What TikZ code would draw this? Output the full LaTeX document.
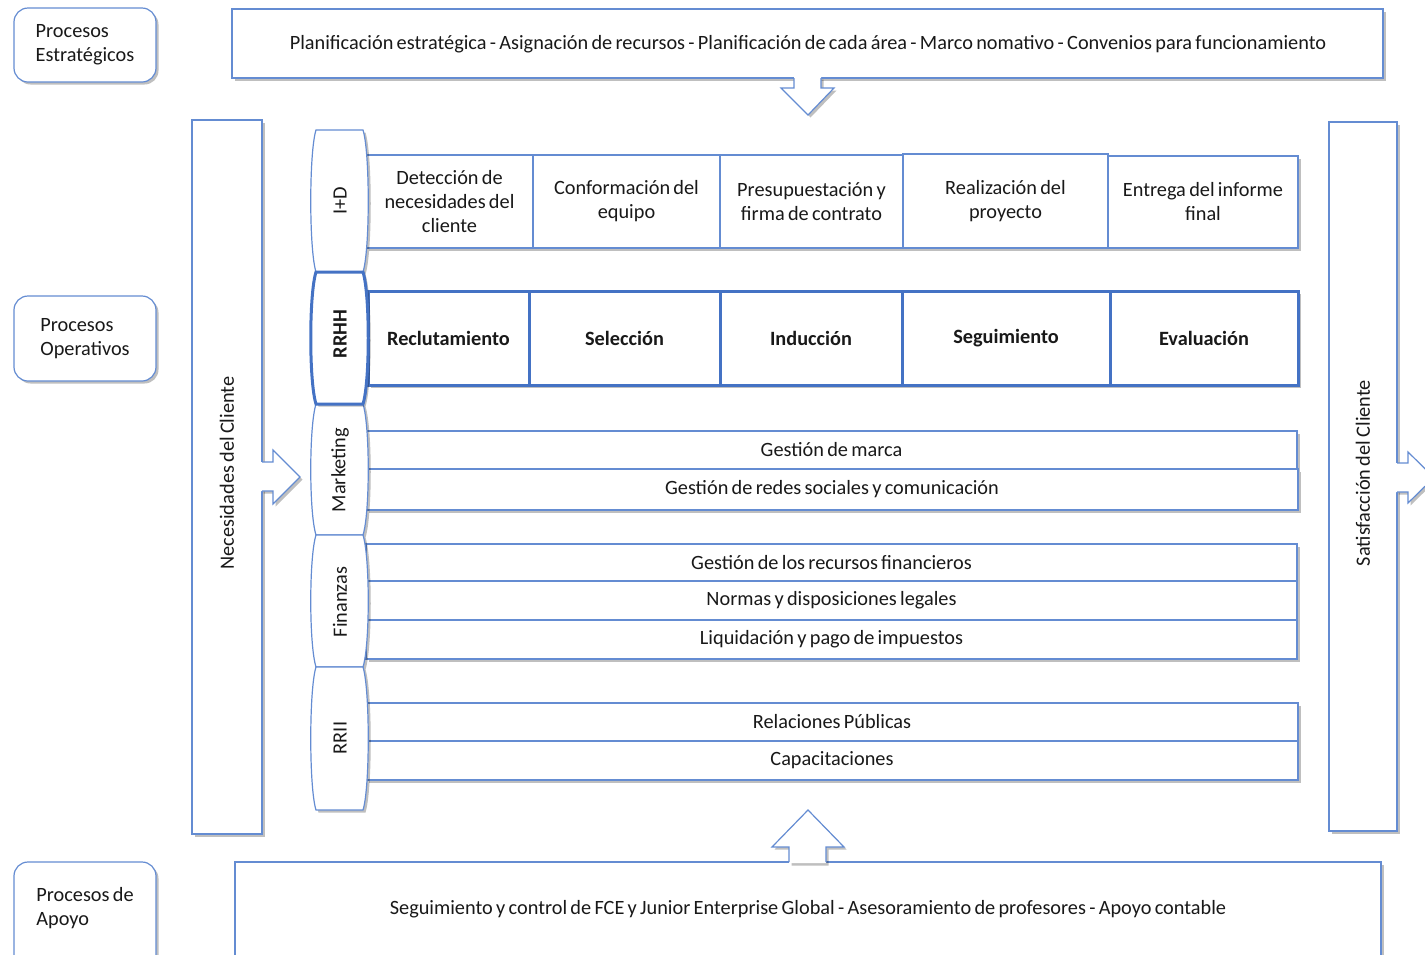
\documentclass[tikz,border=0pt]{standalone}
\usepackage{fontspec}
\setmainfont{Carlito}[WordSpace=0.72]
\usetikzlibrary{shadows}
\definecolor{lb}{RGB}{100,140,210}
\definecolor{tbl}{RGB}{68,114,196}
\definecolor{tx}{RGB}{25,25,25}
\newcommand\myfont{\fontsize{20.3}{24}\selectfont}
\tikzset{
 shd/.style={drop shadow={shadow xshift=2.5pt, shadow yshift=-2.5pt, fill=black, opacity=0.25}},
 box/.style={draw=lb, line width=1.2pt, fill=white, shd, inner sep=0pt, text=tx, align=center, font=\myfont},
 tbox/.style={box, draw=tbl, line width=3pt, font=\myfont\bfseries},
 rbox/.style={box, rounded corners=14pt, align=left},
 lbl/.style={text=tx, font=\myfont, align=center, inner sep=0pt},
 tabst/.style={draw=lb, line width=1.2pt, fill=white, shd},
 tabthick/.style={draw=tbl, line width=3pt, fill=white, shd},
 arrfill/.style={fill=white, shd},
 arrline/.style={draw=lb, line width=1.2pt, line join=miter},
}
\newcommand\mybox[7]{\pgfmathsetmacro\bxcx{(#2+#4)/2}\pgfmathsetmacro\bxcy{(#3+#5)/2}\pgfmathsetmacro\bxw{#4-#2}\pgfmathsetmacro\bxh{#5-#3}\node[#6, minimum width=\bxw pt, minimum height=\bxh pt] (#1) at (\bxcx,\bxcy) {#7};}
\newcommand\tabshape[3]{\pgfmathsetmacro\tya{#1+22}\pgfmathsetmacro\tyb{#2-22}\path[#3] (316,#1) -- (363,#1) .. controls (370,\tya) and (370,\tyb) .. (363,#2) -- (316,#2) .. controls (309,\tyb) and (309,\tya) .. (316,#1) -- cycle;}
\begin{document}
\begin{tikzpicture}[x=1pt,y=-1pt]
\useasboundingbox (0,0) rectangle (1425,954);
\clip (0,0) rectangle (1425,954);
% left labels
\mybox{pe}{14}{8}{156}{82}{rbox}{Procesos\\Estratégicos}
\mybox{po}{14}{296}{156}{381}{rbox}{Procesos\\Operativos}
\mybox{pa}{14}{862}{156}{975}{rbox}{}
\node[lbl, align=left] (patx) at (85,908) {Procesos de\\Apoyo};
% top box
\mybox{top}{232}{9}{1383}{78}{box}{}
\node[lbl] (toptx) at (808,44) {Planificación estratégica - Asignación de recursos - Planificación de cada área - Marco nomativo - Convenios para funcionamiento};
% bottom box
\mybox{bot}{235}{862}{1381}{975}{box}{}
\node[lbl] (bottx) at (808,909) {Seguimiento y control de FCE y Junior Enterprise Global - Asesoramiento de profesores - Apoyo contable};
% side boxes
\mybox{nec}{192}{120}{262}{834}{box}{}
\node[lbl, rotate=90] (nectx) at (227,473) {Necesidades del Cliente};
\mybox{sat}{1329}{122}{1397}{831}{box}{}
\node[lbl, rotate=90] (sattx) at (1363,473) {Satisfacción del Cliente};
% I+D row
\mybox{d1}{366}{155}{533}{248}{box}{Detección de\\necesidades del\\cliente}
\mybox{d2}{533}{155}{720}{248}{box}{Conformación del\\equipo}
\mybox{d3}{720}{155}{903}{248}{box}{Presupuestación y\\firma de contrato}
\mybox{d4}{903}{154}{1108}{248}{box}{Realización del\\proyecto}
\mybox{d5}{1108}{156}{1298}{248}{box}{Entrega del informe\\final}
% RRHH row
\mybox{h1}{368}{291}{529}{385}{tbox}{Reclutamiento}
\mybox{h2}{529}{291}{720}{385}{tbox}{Selección}
\mybox{h3}{720}{291}{902}{385}{tbox}{Inducción}
\mybox{h4}{902}{291}{1110}{385}{tbox}{Seguimiento}
\mybox{h5}{1110}{291}{1298}{385}{tbox}{Evaluación}
% Marketing
\mybox{m1}{366}{431}{1297}{469}{box}{Gestión de marca}
\mybox{m2}{366}{469}{1298}{510}{box}{Gestión de redes sociales y comunicación}
% Finanzas
\mybox{f1}{366}{544}{1297}{581}{box}{Gestión de los recursos financieros}
\mybox{f2}{366}{581}{1297}{620}{box}{Normas y disposiciones legales}
\mybox{f3}{366}{620}{1297}{659}{box}{Liquidación y pago de impuestos}
% RRII
\mybox{r1}{366}{703}{1298}{741}{box}{Relaciones Públicas}
\mybox{r2}{366}{741}{1298}{780}{box}{Capacitaciones}
% tabs
\tabshape{130}{272}{tabst}
\tabshape{404}{535}{tabst}
\tabshape{535}{667}{tabst}
\tabshape{667}{810}{tabst}
\tabshape{272}{404}{tabthick}
\node[lbl, rotate=90] (tid) at (340,201) {I+D};
\node[lbl, rotate=90, font=\myfont\bfseries] (trh) at (340,334) {RRHH};
\node[lbl, rotate=90] (tmk) at (340,470) {Marketing};
\node[lbl, rotate=90] (tfi) at (340,602) {Finanzas};
\node[lbl, rotate=90] (tri) at (340,738) {RRII};
% arrows
\fill[arrfill] (794,77) -- (794,88) -- (781,88) -- (808,115) -- (834,88) -- (821,88) -- (821,77) -- cycle;
\draw[arrline] (794,78) -- (794,88) -- (781,88) -- (808,115) -- (834,88) -- (821,88) -- (821,78);
\fill[arrfill] (789,863) -- (789,847) -- (772,847) -- (808,810) -- (844,847) -- (826,847) -- (826,863) -- cycle;
\draw[arrline] (789,862) -- (789,847) -- (772,847) -- (808,810) -- (844,847) -- (826,847) -- (826,862);
\fill[arrfill] (261,462) -- (273,462) -- (273,450) -- (300,477) -- (273,504) -- (273,491) -- (261,491) -- cycle;
\draw[arrline] (262,462) -- (273,462) -- (273,450) -- (300,477) -- (273,504) -- (273,491) -- (262,491);
\fill[arrfill] (1396,463) -- (1408,463) -- (1408,452) -- (1434,477.5) -- (1408,503) -- (1408,492) -- (1396,492) -- cycle;
\draw[arrline] (1397,463) -- (1408,463) -- (1408,452) -- (1434,477.5) -- (1408,503) -- (1408,492) -- (1397,492);
\end{tikzpicture}
\end{document}
